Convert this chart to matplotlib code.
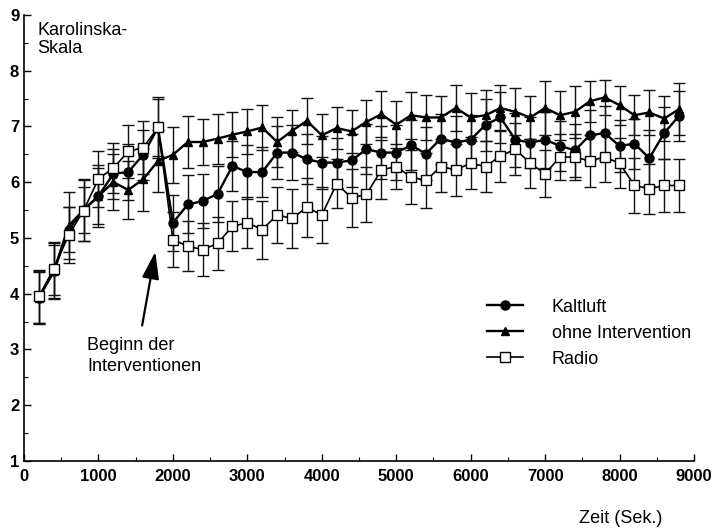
import matplotlib
matplotlib.use("Agg")
import matplotlib.pyplot as plt
from matplotlib.ticker import MultipleLocator
import numpy as np

plt.rcParams['font.family'] = ['Liberation Sans', 'DejaVu Sans']

# measurement times in seconds, one value every 200 s
zeit = np.arange(200, 9000, 200)

kaltluft = [3.93, 4.40, 5.15, 5.50, 5.75, 6.15, 6.18, 6.49, 6.98, 5.27,
            5.60, 5.66, 5.79, 6.29, 6.18, 6.18, 6.53, 6.53, 6.41, 6.35,
            6.35, 6.39, 6.59, 6.53, 6.53, 6.66, 6.51, 6.78, 6.71, 6.76,
            7.03, 7.16, 6.76, 6.71, 6.76, 6.65, 6.57, 6.84, 6.88, 6.65,
            6.69, 6.43, 6.88, 7.19]
kaltluft_err = [0.45, 0.47, 0.40, 0.42, 0.55, 0.45, 0.50, 0.45, 0.55, 0.50,
                0.52, 0.48, 0.50, 0.45, 0.48, 0.45, 0.47, 0.50, 0.45, 0.48,
                0.45, 0.47, 0.45, 0.48, 0.50, 0.45, 0.47, 0.45, 0.48, 0.45,
                0.47, 0.45, 0.48, 0.46, 0.50, 0.45, 0.47, 0.45, 0.48, 0.46,
                0.45, 0.50, 0.47, 0.45]

ohne = [3.93, 4.40, 5.22, 5.50, 5.75, 6.00, 5.86, 6.05, 6.38, 6.49,
        6.72, 6.72, 6.78, 6.85, 6.91, 6.98, 6.72, 6.92, 7.10, 6.84,
        6.97, 6.91, 7.08, 7.22, 7.03, 7.20, 7.16, 7.16, 7.33, 7.16,
        7.20, 7.33, 7.26, 7.16, 7.33, 7.20, 7.26, 7.45, 7.52, 7.38,
        7.20, 7.25, 7.14, 7.31]
ohne_err = [0.47, 0.50, 0.60, 0.55, 0.50, 0.50, 0.52, 0.57, 0.56, 0.50,
            0.47, 0.42, 0.45, 0.40, 0.40, 0.41, 0.44, 0.38, 0.41, 0.39,
            0.38, 0.39, 0.39, 0.41, 0.42, 0.42, 0.40, 0.39, 0.41, 0.43,
            0.46, 0.41, 0.42, 0.39, 0.49, 0.44, 0.46, 0.37, 0.32, 0.35,
            0.36, 0.41, 0.41, 0.47]

radio = [3.95, 4.45, 5.05, 5.49, 6.06, 6.25, 6.55, 6.62, 6.98, 4.97,
         4.85, 4.79, 4.90, 5.21, 5.27, 5.15, 5.41, 5.35, 5.55, 5.41,
         5.97, 5.72, 5.78, 6.22, 6.28, 6.09, 6.03, 6.28, 6.22, 6.34,
         6.28, 6.47, 6.59, 6.34, 6.15, 6.45, 6.45, 6.38, 6.45, 6.34,
         5.94, 5.88, 5.94, 5.94]
radio_err = [0.47, 0.48, 0.50, 0.55, 0.50, 0.45, 0.48, 0.48, 0.52, 0.50,
             0.45, 0.48, 0.47, 0.45, 0.46, 0.52, 0.51, 0.53, 0.53, 0.50,
             0.44, 0.52, 0.49, 0.53, 0.41, 0.48, 0.50, 0.45, 0.47, 0.47,
             0.45, 0.47, 0.47, 0.44, 0.42, 0.42, 0.41, 0.46, 0.44, 0.45,
             0.49, 0.45, 0.47, 0.47]


def draw_series(ax, y, err, label, marker, ms, face, lw, z):
    ax.errorbar(zeit, y, yerr=err, fmt='none', ecolor='#111111',
                elinewidth=1.0, capsize=4.5, capthick=1.0, zorder=z)
    ax.plot(zeit, y, color='black', lw=lw, marker=marker, ms=ms,
            mfc=face, mec='black', mew=1.0, label=label, zorder=z + 1)


fig = plt.figure(figsize=(7.15, 5.31), dpi=100)
ax = fig.add_axes([0.0336, 0.132, 0.937, 0.840])

draw_series(ax, kaltluft, kaltluft_err, 'Kaltluft', 'o', 6.5, 'black', 1.7, 2)
draw_series(ax, ohne, ohne_err, 'ohne Intervention', '^', 6, 'black', 1.7, 4)
draw_series(ax, radio, radio_err, 'Radio', 's', 7, 'white', 1.2, 6)

ax.set_xlim(0, 9000)
ax.set_ylim(1, 9)
ax.xaxis.set_major_locator(MultipleLocator(1000))
ax.xaxis.set_minor_locator(MultipleLocator(500))
ax.yaxis.set_major_locator(MultipleLocator(1))
ax.yaxis.set_minor_locator(MultipleLocator(0.5))
ax.tick_params(which='major', direction='in', length=5, width=1.0,
               labelsize=12)
ax.tick_params(axis='x', which='major', pad=6)
ax.tick_params(which='minor', direction='in', length=3, width=0.8)
for lab in ax.get_xticklabels() + ax.get_yticklabels():
    lab.set_fontweight('bold')
ax.spines['top'].set_visible(False)
ax.spines['right'].set_visible(False)
ax.spines['left'].set_linewidth(1.2)
ax.spines['bottom'].set_linewidth(1.2)

ax.text(180, 8.87, 'Karolinska-\nSkala', fontsize=13, va='top', ha='left',
        linespacing=1.05)
fig.text(0.868, 0.023, 'Zeit (Sek.)', fontsize=13, ha='center', va='center')

ax.annotate('', xy=(1770, 4.8), xytext=(1580, 3.38),
            arrowprops=dict(arrowstyle='-|>,head_length=1.1,head_width=0.35',
                            color='black', lw=1.6, mutation_scale=15))
ax.text(850, 2.88, 'Beginn der\nInterventionen', fontsize=13, ha='left',
        va='center', linespacing=1.25)

ax.legend(loc='upper left', bbox_to_anchor=(0.681, 0.4375),
          bbox_transform=fig.transFigure, frameon=False, fontsize=13,
          handlelength=2.0, handletextpad=1.6, labelspacing=0.5,
          borderpad=0, borderaxespad=0)

fig.savefig('out.png', dpi=100)
